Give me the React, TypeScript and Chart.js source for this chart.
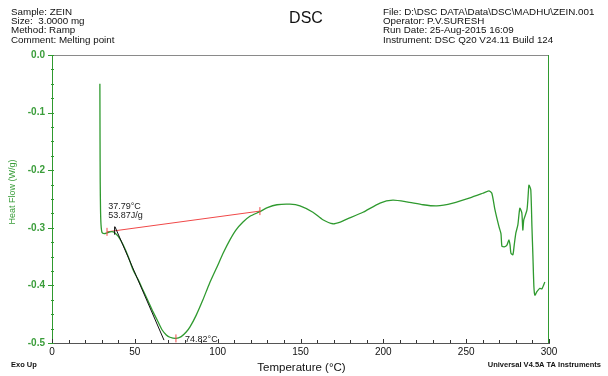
import React, { useEffect, useRef } from "react";
import { Chart, registerables } from "chart.js";
Chart.register(...registerables);

// DSC curve: temperature (°C) and heat flow (W/g)
const temperatureC = [
  28.9, 29.0, 29.1, 29.3, 29.6, 30.2, 31.5, 33.0, 35.0, 37.0, 38.0, 40.0, 43.0, 46.0, 48.9,
  52.0, 54.9, 58.0, 61.0, 64.0, 66.4, 69.0, 71.2, 74.8, 78.0, 81.0, 83.3, 87.0, 91.1, 95.0,
  99.6, 103.5, 107.4, 111.0, 115.3, 119.5, 125.5, 130.0, 135.8, 143.6, 149.7, 157.5, 163.5,
  169.6, 174.0, 178.0, 187.7, 198.0, 205.8, 214.2, 224.0, 232.3, 242.0, 252.3, 260.0, 263.7,
  265.5, 267.4, 269.8, 271.0, 271.6, 273.0, 274.6, 275.8, 276.5, 277.0, 278.2, 279.0, 280.0,
  281.2, 282.4, 283.6, 284.2, 284.8, 286.7, 287.5, 287.9, 289.0, 289.7, 290.3, 290.9, 291.5,
  292.7, 294.5, 295.7, 297.5,
];
const heatFlowWg = [
  -0.05, -0.15, -0.22, -0.27, -0.295, -0.308, -0.31, -0.309, -0.307, -0.307, -0.309, -0.315,
  -0.33, -0.35, -0.373, -0.39, -0.408, -0.427, -0.446, -0.463, -0.477, -0.486, -0.49, -0.492,
  -0.489, -0.481, -0.472, -0.452, -0.425, -0.397, -0.368, -0.343, -0.321, -0.304, -0.29, -0.28,
  -0.272, -0.265, -0.26, -0.259, -0.262, -0.273, -0.286, -0.293, -0.29, -0.285, -0.273, -0.257,
  -0.252, -0.255, -0.26, -0.262, -0.257, -0.248, -0.24, -0.236, -0.24, -0.269, -0.298, -0.31,
  -0.332, -0.333, -0.33, -0.321, -0.33, -0.344, -0.347, -0.33, -0.309, -0.295, -0.266, -0.274,
  -0.304, -0.286, -0.269, -0.24, -0.226, -0.234, -0.298, -0.35, -0.403, -0.417, -0.411, -0.405,
  -0.406, -0.394,
];

// Integration baseline (red) and onset tangent (black)
const baselineT = [33.2, 125.5];
const baselineHF = [-0.307, -0.271];
const tangentT = [38.0, 67.6];
const tangentHF = [-0.298, -0.495];
const redMarkT = [33.2, 125.5, 74.82];
const redMarkHF = [-0.307, -0.271, -0.492];
const onsetT = [37.79];
const onsetHF = [-0.305];

const xTickValues = [0, 50, 100, 150, 200, 250, 300];
const yTickValues = [0, -0.1, -0.2, -0.3, -0.4, -0.5];

const headerLeft = ["Sample: ZEIN", "Size:  3.0000 mg", "Method: Ramp", "Comment: Melting point"];
const headerRight = [
  "File: D:\\DSC DATA\\Data\\DSC\\MADHU\\ZEIN.001",
  "Operator: P.V.SURESH",
  "Run Date: 25-Aug-2015 16:09",
  "Instrument: DSC Q20 V24.11 Build 124",
];
const titleText = "DSC";
const onsetLabel = ["37.79°C", "53.87J/g"];
const peakLabel = "74.82°C";
const xTitle = "Temperature (°C)";
const yTitle = "Heat Flow (W/g)";
const footLeft = "Exo Up";
const footRight = "Universal V4.5A TA Instruments";

const FONT = "'Liberation Sans', Arial, sans-serif";
const GREEN = "#2f9a2f";
const GREEN_TEXT = "#3a9d3a";
const RED = "#f04848";

const pts = (xs: number[], ys: number[]) => xs.map((x, i) => ({ x, y: ys[i] }));

const decoPlugin = {
  id: "deco",
  beforeDatasetsDraw(chart: any) {
    const { ctx, chartArea: a, scales } = chart;
    const xs = scales.x;
    const ys = scales.y;
    ctx.save();
    ctx.lineWidth = 1;
    // top border
    ctx.strokeStyle = "#8a8a8a";
    ctx.beginPath();
    ctx.moveTo(a.left, a.top + 0.5);
    ctx.lineTo(a.right, a.top + 0.5);
    ctx.stroke();
    // right border
    ctx.strokeStyle = GREEN;
    ctx.beginPath();
    ctx.moveTo(a.right - 0.5, a.top);
    ctx.lineTo(a.right - 0.5, a.bottom);
    ctx.stroke();
    // x ticks (inward)
    ctx.strokeStyle = "#333";
    for (let t = 0; t <= 300; t += 10) {
      const px = Math.round(xs.getPixelForValue(t)) + 0.5;
      const len = t % 50 === 0 ? 4 : 3;
      ctx.beginPath();
      ctx.moveTo(px, a.bottom);
      ctx.lineTo(px, a.bottom - len);
      ctx.stroke();
    }
    // y ticks
    ctx.strokeStyle = GREEN;
    for (let i = 0; i <= 20; i++) {
      const v = -i * 0.025;
      const py = Math.round(ys.getPixelForValue(v)) + 0.5;
      const major = i % 4 === 0;
      ctx.beginPath();
      ctx.moveTo(a.left - (major ? 4 : 1), py);
      ctx.lineTo(a.left + 2, py);
      ctx.stroke();
    }
    ctx.restore();
  },
  afterDraw(chart: any) {
    const { ctx, chartArea: a, scales } = chart;
    const xs = scales.x;
    const ys = scales.y;
    ctx.save();
    ctx.textBaseline = "alphabetic";
    // header
    ctx.fillStyle = "#111";
    ctx.font = `9.8px ${FONT}`;
    ctx.textAlign = "left";
    headerLeft.forEach((s, i) => ctx.fillText(s, 11, 14.5 + i * 9.4));
    headerRight.forEach((s, i) => ctx.fillText(s, 383, 14.5 + i * 9.4));
    ctx.font = `16px ${FONT}`;
    ctx.textAlign = "center";
    ctx.fillText(titleText, 306, 23);
    // annotations
    ctx.fillStyle = "#222";
    ctx.font = `9px ${FONT}`;
    ctx.textAlign = "left";
    ctx.fillText(onsetLabel[0], xs.getPixelForValue(33.9), ys.getPixelForValue(-0.2675));
    ctx.fillText(onsetLabel[1], xs.getPixelForValue(33.9), ys.getPixelForValue(-0.2825));
    ctx.fillText(peakLabel, xs.getPixelForValue(80.3), ys.getPixelForValue(-0.4975));
    // axis titles
    ctx.fillStyle = "#111";
    ctx.font = `11.5px ${FONT}`;
    ctx.textAlign = "center";
    ctx.fillText(xTitle, (a.left + a.right) / 2 + 1, 371);
    ctx.save();
    ctx.translate(15, 192);
    ctx.rotate(-Math.PI / 2);
    ctx.fillStyle = GREEN_TEXT;
    ctx.font = `9px ${FONT}`;
    ctx.fillText(yTitle, 0, 0);
    ctx.restore();
    // footer
    ctx.fillStyle = "#111";
    ctx.font = `bold 7.5px ${FONT}`;
    ctx.textAlign = "left";
    ctx.fillText(footLeft, 11, 367);
    ctx.textAlign = "right";
    ctx.fillText(footRight, 601, 367);
    ctx.restore();
  },
};

export default function App() {
  const ref = useRef<HTMLCanvasElement | null>(null);
  useEffect(() => {
    if (!ref.current) return;
    const chart = new Chart(ref.current, {
      type: "scatter",
      data: {
        datasets: [
          {
            data: pts(redMarkT, redMarkHF),
            showLine: false,
            pointStyle: "line",
            rotation: 90,
            pointRadius: 4,
            borderColor: RED,
            backgroundColor: RED,
            borderWidth: 1,
          },
          {
            data: pts(onsetT, onsetHF),
            showLine: false,
            pointStyle: "line",
            rotation: 90,
            pointRadius: 4,
            borderColor: "#111",
            borderWidth: 1,
          },
          {
            data: pts(tangentT, tangentHF),
            showLine: true,
            pointRadius: 0,
            borderColor: "#111",
            borderWidth: 1,
          },
          {
            data: pts(temperatureC, heatFlowWg),
            showLine: true,
            pointRadius: 0,
            borderColor: GREEN,
            borderWidth: 1.3,
            tension: 0.2,
          },
          {
            data: pts(baselineT, baselineHF),
            showLine: true,
            pointRadius: 0,
            borderColor: RED,
            borderWidth: 1,
          },
        ],
      } as any,
      options: {
        animation: false,
        responsive: false,
        devicePixelRatio: 1,
        layout: { padding: { top: 55, right: 59, left: 0, bottom: 0 } },
        plugins: { legend: { display: false }, tooltip: { enabled: false } },
        scales: {
          x: {
            type: "linear",
            min: 0,
            max: 300,
            afterFit: (s: any) => {
              s.height = 33;
            },
            afterBuildTicks: (s: any) => {
              s.ticks = xTickValues.map((v) => ({ value: v }));
            },
            ticks: {
              color: "#111",
              font: { family: FONT, size: 10 },
              padding: 3,
              maxRotation: 0,
              callback: (v: any) => String(v),
            },
            grid: { display: true, drawOnChartArea: false, drawTicks: false, color: "#555" },
            border: { display: true, color: "#555", width: 1 },
          },
          y: {
            type: "linear",
            min: -0.5,
            max: 0,
            afterFit: (s: any) => {
              s.width = 52;
            },
            afterBuildTicks: (s: any) => {
              s.ticks = yTickValues.map((v) => ({ value: v }));
            },
            ticks: {
              color: GREEN_TEXT,
              font: { family: FONT, size: 10, weight: "bold" },
              padding: 7,
              callback: (v: any) => Number(v).toFixed(1),
            },
            grid: { display: true, drawOnChartArea: false, drawTicks: false, color: GREEN },
            border: { display: true, color: GREEN, width: 1 },
          },
        },
      } as any,
      plugins: [decoPlugin],
    });
    return () => chart.destroy();
  }, []);
  return (
    <div style={{ position: "absolute", left: 0, top: 0, width: 608, height: 376, background: "#fff" }}>
      <canvas ref={ref} width={608} height={376} />
    </div>
  );
}
